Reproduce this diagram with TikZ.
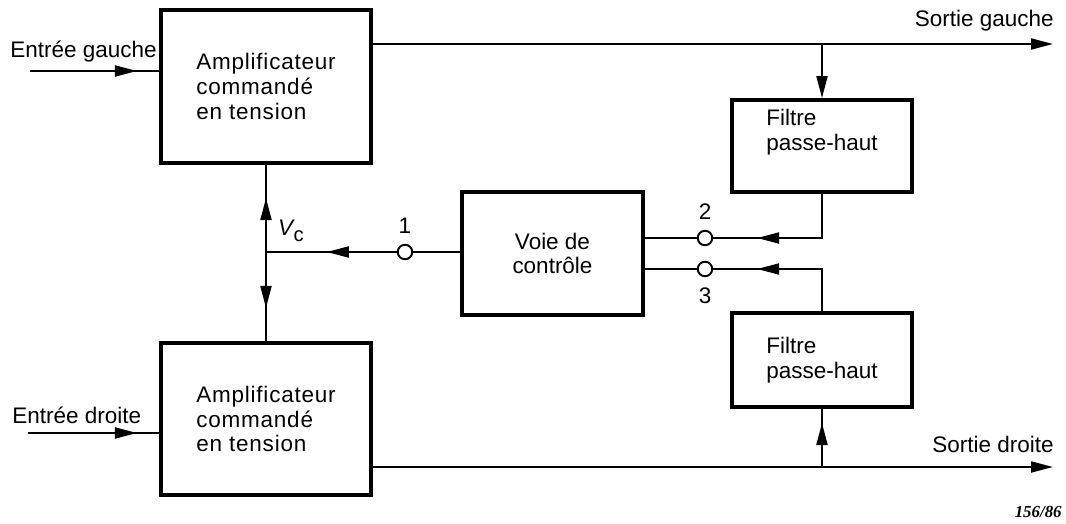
\documentclass[tikz,border=0pt]{standalone}
\usepackage{fontspec}
\setmainfont{Liberation Sans}
\newfontfamily\reffont{Liberation Serif}
\newfontfamily\widefont[LetterSpace=3.5]{Liberation Sans}
\usetikzlibrary{arrows.meta,decorations.markings,positioning}

\tikzset{
  blockbox/.style={draw,line width=2.2pt,align=left,inner sep=0pt,
    font=\fontsize{12.8}{14}\selectfont},
  ampbox/.style={blockbox,minimum width=4.2cm,font=\widefont\fontsize{12.8}{14.2}\selectfont},
  boxtext/.style={align=left,inner sep=0pt,font=\fontsize{12.8}{14}\selectfont},
  term/.style={draw,circle,line width=1.1pt,fill=white,inner sep=0pt,minimum size=0.29cm},
  lbl/.style={inner sep=0pt,font=\fontsize{12.8}{14}\selectfont},
  lead/.style={line width=1.1pt},
  endarr/.style={lead,-{Triangle[length=4.4mm,width=2.2mm]}},
  midarr/.style={lead,postaction={decorate},decoration={markings,
    mark=at position #1 with {\arrow{Triangle[length=4.4mm,width=2.2mm]}}}},
}

\begin{document}
\begin{tikzpicture}[x=0.02cm,y=-0.02cm]
  \useasboundingbox (0,0) rectangle (1066,524);

  % blocs
  \node[ampbox,minimum height=3.06cm] (ampg) at (266,86.5)
    {Amplificateur\\commandé\\en tension};
  \node[ampbox,minimum height=3.04cm] (ampd) at (266,419)
    {Amplificateur\\commandé\\en tension};
  \node[blockbox,align=center,minimum width=3.62cm,minimum height=2.46cm] (voie) at (552.5,253.5)
    {Voie de\\contrôle};
  \node[blockbox,minimum width=3.6cm,minimum height=1.84cm] (filtg) at (822,146) {};
  \node[boxtext] (filtgtxt) at ([yshift=0.28cm]filtg.center) {Filtre\\passe-haut};
  \node[blockbox,minimum width=3.6cm,minimum height=1.88cm] (filtd) at (822,360)
    {Filtre\\passe-haut};

  % bornes
  \node[term,label={[lbl,label distance=0.2cm]above:1}] (t1) at (405,252) {};
  \node[term,label={[lbl,label distance=0.2cm]above:2}] (t2) at (705,238) {};
  \node[term,label={[lbl,label distance=0.2cm]below:3}] (t3) at (705,269) {};

  % entrees / sorties
  \coordinate (ing) at (30,71);
  \coordinate (ind) at (28,433);
  \coordinate (sg) at (1053,44);
  \coordinate (sd) at (1053,467);
  \coordinate (vc) at (ampg.south |- t1);

  \node[lbl,anchor=base west] (engtxt) at (10,57) {Entrée gauche};
  \node[lbl,anchor=base west] (endtxt) at (12,423) {Entrée droite};
  \node[lbl,anchor=base east] (sgtxt) at (1054,27) {Sortie gauche};
  \node[lbl,anchor=base east] (sdtxt) at (1054,452) {Sortie droite};
  \node[lbl] (vctxt) at (291,231)
    {\itshape V\kern0.3pt\raisebox{-0.45ex}{\upshape\fontsize{11.5}{12}\selectfont c}};
  \node[anchor=east,inner sep=0pt,font=\reffont\bfseries\itshape\fontsize{9.6}{11}\selectfont]
    (refno) at (1062,512) {156/86};

  % liaisons
  \draw[midarr=2.14cm] (ing) -- (ing -| ampg.west);
  \draw[midarr=2.18cm] (ind) -- (ind -| ampd.west);
  \draw[endarr] (ampg.east |- sg) -- (sg);
  \draw[endarr] (ampd.east |- sd) -- (sd);
  \draw[endarr] (filtg.north |- sg) -- (filtg.north);
  \draw[midarr=0.88cm] (filtd.south |- sd) -- (filtd.south);
  \draw[midarr=2.18cm] (filtg.south) |- (t2);
  \draw[midarr=2.14cm] (filtd.north) |- (t3);
  \foreach \t in {t2,t3}
    \draw[lead] (\t) -- (\t -| voie.east);
  \draw[lead] (voie.west |- t1) -- (t1);
  \draw[midarr=1.4cm] (t1) -- (vc);
  \draw[midarr=1.08cm] (vc) -- (ampg.south);
  \draw[midarr=1.12cm] (vc) -- (ampd.north);
\end{tikzpicture}
\end{document}
